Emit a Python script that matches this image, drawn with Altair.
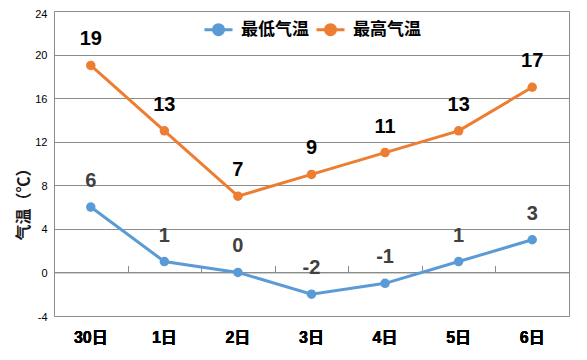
import altair as alt
import pandas as pd

days = ["30日", "1日", "2日", "3日", "4日", "5日", "6日"]
low = [6, 1, 0, -2, -1, 1, 3]
high = [19, 13, 7, 9, 11, 13, 17]
series = ["最低气温", "最高气温"]
colors = ["#5B9BD5", "#ED7D31"]
label_colors = ["#404040", "#000000"]
y_ticks = [-4, 0, 4, 8, 12, 16, 20, 24]

rows = []
for d, l, h in zip(days, low, high):
    rows.append({"day": d, "series": series[0], "value": l, "label": str(l)})
    rows.append({"day": d, "series": series[1], "value": h, "label": str(h)})
df = pd.DataFrame(rows)

W, H = 515, 305
ymin, ymax = -4, 24
FONT = "Liberation Sans, Arial, Noto Sans CJK SC, sans-serif"
CJK = "Noto Sans CJK SC, sans-serif"
GRID = "#8c8c8c"

x_scale = alt.Scale(type="band", domain=days, paddingInner=0, paddingOuter=0)
y_scale = alt.Scale(domain=[ymin, ymax], nice=False, zero=False)

x_main = alt.X(
    "day:N", sort=days, scale=x_scale,
    axis=alt.Axis(title=None, orient="bottom", domain=False, ticks=False,
                  labelFont=FONT, labelFontSize=16, labelFontWeight="bold",
                  labelColor="#000000", labelPadding=13, labelAngle=0, grid=False),
)
y_axis = alt.Axis(values=y_ticks, title="气温（℃）", grid=True, gridColor=GRID,
                  gridWidth=1, domain=False, ticks=False, labelPadding=7,
                  labelOffset={"condition": {"test": f"datum.value == {ymax}", "value": 3}, "value": 1},
                  labelExpr="replace(datum.label, '−', '-')",
                  labelFont=FONT, labelFontSize=11, labelColor="#000000",
                  titleFont=CJK, titleFontSize=16, titleFontWeight="bold",
                  titleColor="#1a1a1a", titleAngle=-90, titleX=-31, titleY=189,
                  titleAlign="center", titleBaseline="middle")
y_main = alt.Y("value:Q", scale=y_scale, axis=y_axis)

legend_path = ("M-1,0L1,0M0.36,0A0.36,0.36,0,1,1,-0.36,0"
               "A0.36,0.36,0,1,1,0.36,0Z")

ser_scale = alt.Scale(domain=series, range=colors)
legend = alt.Legend(
    title=None, orient="none", legendX=149, legendY=3, direction="horizontal",
    symbolType=legend_path, symbolSize=784, symbolStrokeWidth=3, symbolOpacity=1,
    labelFont=CJK, labelFontSize=17, labelFontWeight="bold", labelColor="#000000",
    labelOffset=7, columnPadding=1, padding=0,
)

base = alt.Chart(df)

lines = base.mark_line(strokeWidth=3).encode(
    x=x_main, y=y_main, color=alt.Color("series:N", sort=series, scale=ser_scale, legend=legend)
)
points = base.mark_point(filled=True, size=90, opacity=1).encode(
    x=x_main, y=y_main,
    color=alt.Color("series:N", sort=series, scale=ser_scale, legend=legend),
)

text_layers = []
for s, c in zip(series, label_colors):
    text_layers.append(
        base.transform_filter(alt.datum.series == s)
        .mark_text(dy=-26, fontSize=20, fontWeight="bold", font=FONT, color=c, baseline="middle")
        .encode(x=x_main, y=y_main, text="label:N")
    )

zero_offset = -H * (ymax - 0) / (ymax - ymin)
zero_axis = base.mark_point(opacity=0).encode(
    x=alt.X("day:N", sort=days, scale=x_scale,
            axis=alt.Axis(title=None, orient="top", offset=zero_offset, labels=False,
                          domain=True, domainColor=GRID, domainWidth=1,
                          ticks=True, tickColor=GRID, tickSize=7, tickWidth=1,
                          tickBand="extent", grid=False)),
    y=y_main,
)

chart = (
    alt.layer(zero_axis, lines, points, *text_layers)
    .resolve_axis(x="independent")
    .properties(
        width=W, height=H,
        autosize=alt.AutoSizeParams(type="none"),
        padding={"left": 46, "top": 3, "right": 10, "bottom": 36},
        background="white",
    )
    .configure_view(stroke=GRID, strokeWidth=1)
)

chart.save("out.html", embed_options={"renderer": "svg", "actions": False})
